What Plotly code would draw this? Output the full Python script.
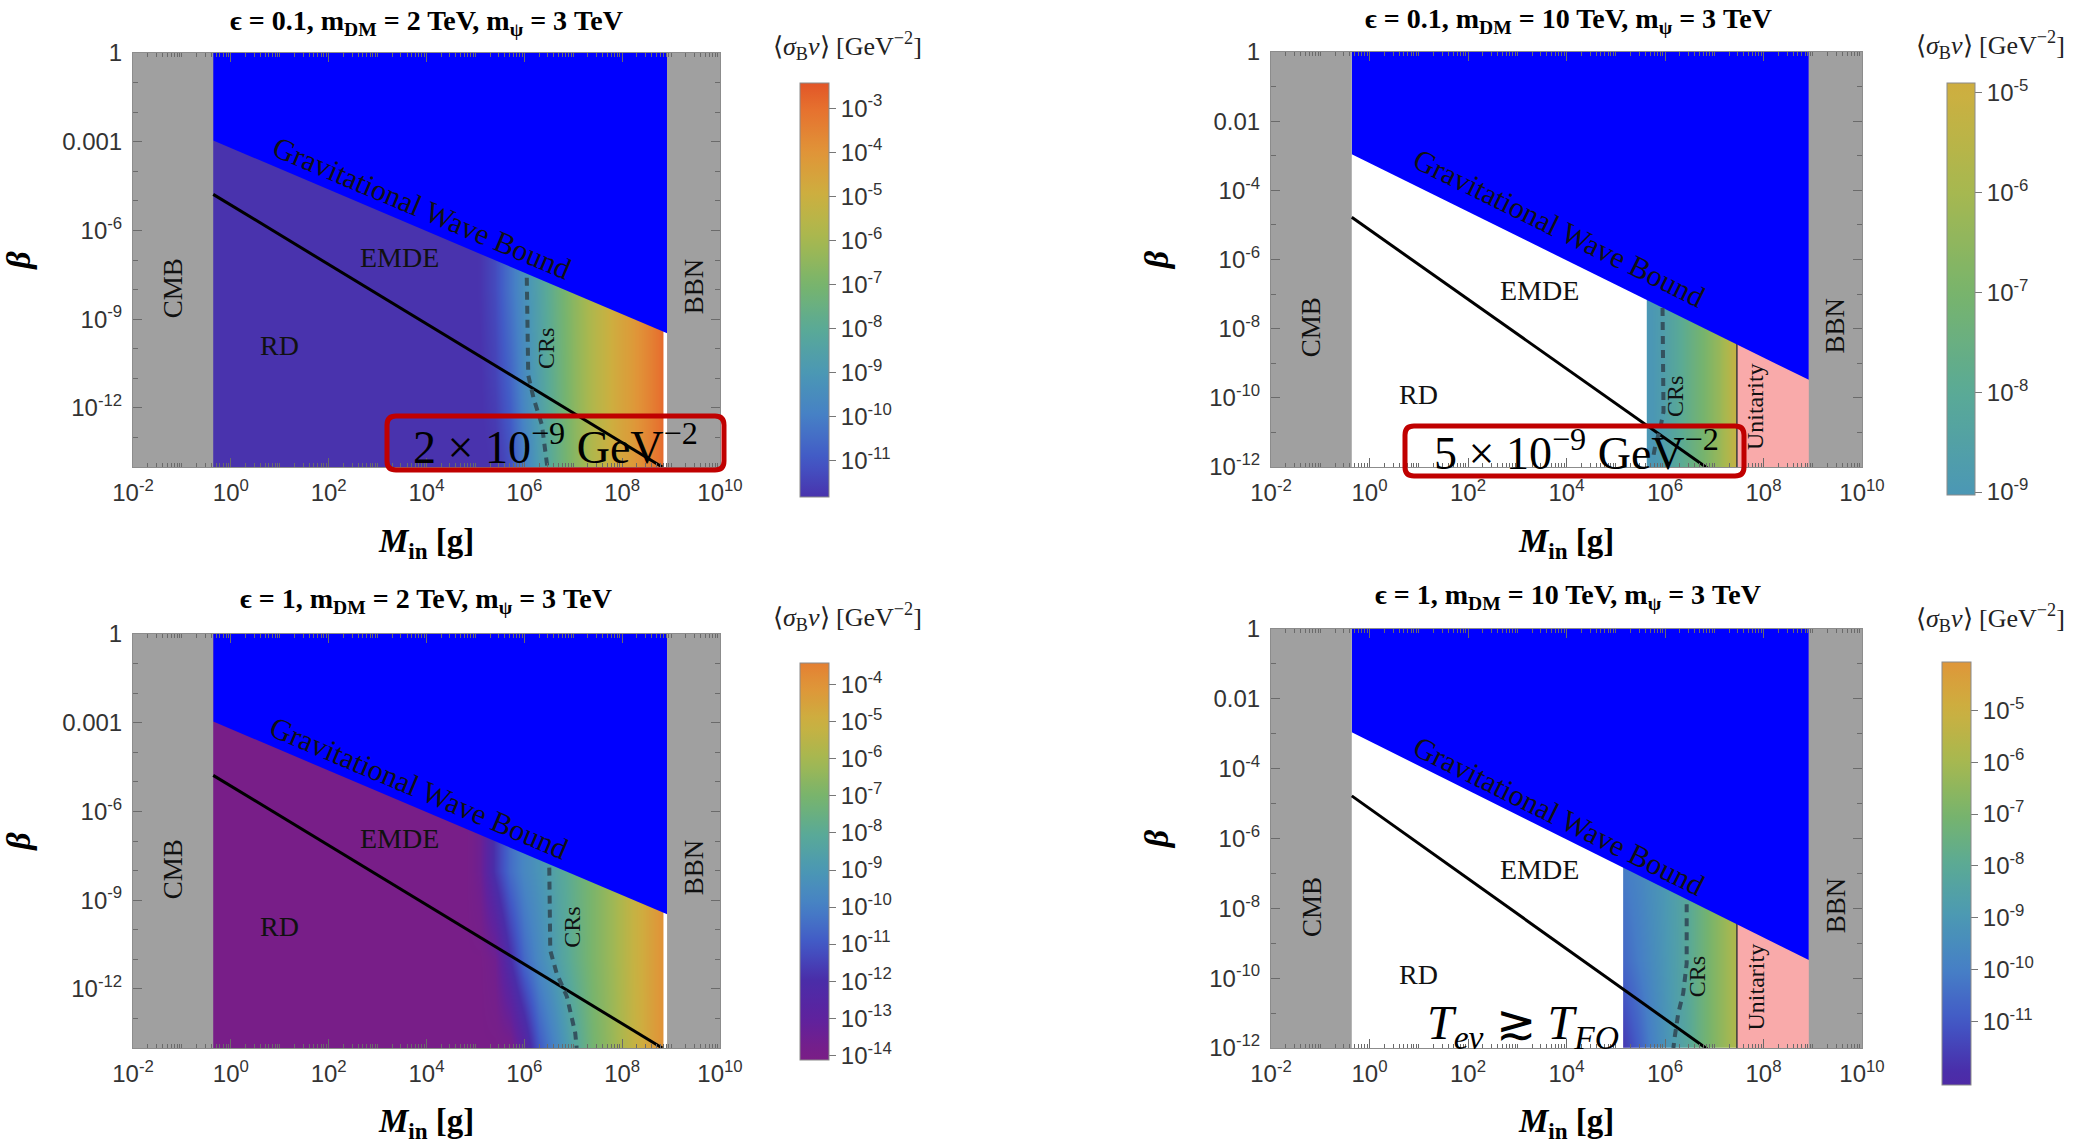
import math
import plotly.graph_objects as go
from plotly.colors import sample_colorscale

W, H = 2087, 1147
SERIF = "Liberation Serif"
SANS = "Liberation Sans"

# ---------------- data (log10 values) ----------------
X_TICK_EXP = [-2, 0, 2, 4, 6, 8, 10]
Y_TICK_EXP_A = [0, -3, -6, -9, -12]
Y_TICK_TXT_A = ["1", "0.001", "10<sup>-6</sup>", "10<sup>-9</sup>", "10<sup>-12</sup>"]
Y_TICK_EXP_B = [0, -2, -4, -6, -8, -10, -12]
Y_TICK_TXT_B = ["1", "0.01", "10<sup>-4</sup>", "10<sup>-6</sup>", "10<sup>-8</sup>",
                "10<sup>-10</sup>", "10<sup>-12</sup>"]

CMB_BAND_LOGM = [-3.0, -0.36]
BBN_BAND_LOGM = [8.92, 11.0]
GW_LOGM = [-0.36, 8.92]
GW_LOGBETA = [-2.96, -9.48]
RD_LOGM = [-0.36, 8.82]
RD_LOGBETA = [-4.78, -14.0]
UNITARITY_LOGM = 7.46
BBN_WHITE_LOGM = 8.885

# master colour gradient (log10 <sigma v> -> colour)
CMAP_LOGSV = [-14.0, -13.0, -12.0, -11.0, -10.0, -9.0, -8.0, -7.0, -6.0, -5.0, -4.0, -3.0, -2.4]
CMAP_COLORS = ["#7A1E86", "#5E229E", "#4A2CA8", "#4258C6", "#4680C6", "#4B98B4", "#5AAA96",
               "#78B46C", "#A6B850", "#CCB040", "#E09438", "#E6702E", "#E25428"]

# panel 1: eps=0.1, mDM=2 TeV
P1_LOGM = [-0.5, 4.8, 5.1, 5.4, 5.7, 6.0, 6.3, 6.6, 7.0, 7.4, 7.8, 8.2, 8.6, 9.0]
P1_ROWS = [-14, -11, -8, 0]
P1_LOGSV = [
    [-11.9, -11.9, -11.9, -11.8, -11.2, -10.0, -8.8, -7.8, -6.7, -5.7, -4.9, -4.2, -3.4, -2.5],
    [-11.9, -11.9, -11.85, -11.5, -10.7, -9.6, -8.6, -7.7, -6.65, -5.7, -4.9, -4.2, -3.4, -2.5],
    [-11.9, -11.9, -11.8, -11.3, -10.3, -9.35, -8.5, -7.6, -6.6, -5.7, -4.9, -4.2, -3.4, -2.5],
    [-11.9, -11.9, -11.8, -11.3, -10.3, -9.35, -8.5, -7.6, -6.6, -5.7, -4.9, -4.2, -3.4, -2.5],
]
P1_CB = [-11.83, -2.43]
P1_CB_TICKS = [-11, -10, -9, -8, -7, -6, -5, -4, -3]
P1_CRS_LOGM = [6.05, 6.08, 6.19, 6.36, 6.47]
P1_CRS_LOGBETA = [-7.6, -10.9, -11.68, -12.58, -14.0]

# panel 2: eps=0.1, mDM=10 TeV
P2_LOGM = [5.5, 5.63, 5.9, 6.2, 6.5, 6.8, 7.1, 7.46, 7.7]
P2_ROWS = [-12, 0]
P2_LOGSV = [
    [-9.2, -9.2, -8.8, -8.2, -7.6, -7.0, -6.3, -5.1, -4.95],
    [-9.0, -9.0, -8.7, -8.2, -7.6, -7.0, -6.3, -5.1, -4.95],
]
P2_LEFT_LOGM = 5.63
P2_CB = [-9.03, -4.9]
P2_CB_TICKS = [-9, -8, -7, -6, -5]
P2_CRS_LOGM = [5.95, 5.97, 5.9, 5.8, 5.75]
P2_CRS_LOGBETA = [-7.4, -10.4, -10.9, -11.4, -11.8]

# panel 3: eps=1, mDM=2 TeV
P3_LOGM = [-0.5, 4.8, 5.1, 5.4, 5.7, 6.0, 6.3, 6.6, 7.0, 7.4, 7.8, 8.2, 8.6, 9.0]
P3_ROWS = [-14, -11, -8, 0]
P3_LOGSV = [
    [-14, -14, -14, -14, -13.9, -12.8, -11.0, -9.9, -8.4, -7.1, -6.3, -5.3, -4.4, -3.6],
    [-14, -14, -14, -13.6, -12.0, -10.6, -9.6, -8.8, -7.8, -6.9, -6.2, -5.25, -4.4, -3.6],
    [-14, -14, -13.5, -11.8, -10.5, -9.7, -9.15, -8.5, -7.7, -6.9, -6.2, -5.25, -4.4, -3.6],
    [-14, -14, -13.5, -11.8, -10.5, -9.7, -9.15, -8.5, -7.7, -6.9, -6.2, -5.25, -4.4, -3.6],
]
P3_CB = [-14.13, -3.41]
P3_CB_TICKS = [-14, -13, -12, -11, -10, -9, -8, -7, -6, -5, -4]
P3_CRS_LOGM = [6.51, 6.53, 6.66, 6.87, 7.04, 7.07]
P3_CRS_LOGBETA = [-7.9, -10.7, -11.47, -12.26, -13.49, -14.0]

# panel 4: eps=1, mDM=10 TeV
P4_LOGM = [5.0, 5.15, 5.43, 5.7, 5.96, 6.2, 6.45, 6.7, 6.98, 7.2, 7.46, 7.7]
P4_ROWS = [-12, -9.5, -7]
P4_LOGSV = [
    [-11.9, -11.7, -10.9, -10.0, -9.3, -8.7, -8.2, -7.5, -6.8, -6.3, -5.7, -5.5],
    [-10.9, -10.6, -10.1, -9.6, -9.1, -8.65, -8.1, -7.5, -6.8, -6.3, -5.7, -5.5],
    [-10.3, -10.1, -9.8, -9.4, -9.0, -8.6, -8.1, -7.5, -6.8, -6.3, -5.7, -5.5],
]
P4_LEFT_LOGM = 5.15
P4_CB = [-12.22, -4.07]
P4_CB_TICKS = [-11, -10, -9, -8, -7, -6, -5]
P4_CRS_LOGM = [6.44, 6.44, 6.37, 6.27, 6.2, 6.17]
P4_CRS_LOGBETA = [-7.88, -9.58, -10.43, -11.0, -11.66, -12.0]

TITLES = [
    "ϵ = 0.1, m<sub>DM</sub> = 2 TeV, m<sub>ψ</sub> = 3 TeV",
    "ϵ = 0.1, m<sub>DM</sub> = 10 TeV, m<sub>ψ</sub> = 3 TeV",
    "ϵ = 1, m<sub>DM</sub> = 2 TeV, m<sub>ψ</sub> = 3 TeV",
    "ϵ = 1, m<sub>DM</sub> = 10 TeV, m<sub>ψ</sub> = 3 TeV",
]
# label positions (log10 M, log10 beta)
LBL_CMB = (-1.18, -7.95)
LBL_BBN = (9.46, -7.9)
LBL_EMDE = (3.45, -6.9)
LBL_RD = (1.0, -9.9)
LBL_CRS = [(6.43, -10.0), (6.2, -9.95), (6.97, -9.91), (6.64, -9.96)]
LBL_UNIT = (7.84, -10.25)
LBL_GW = [(3.9, -5.22), (3.84, -5.08), (3.84, -5.18), (3.84, -5.33)]

# ---------------- layout geometry (pixels) ----------------
DOM_X = [(133, 720), (1271, 1862), (133, 720), (1271, 1862)]
DOM_Y = [(53, 467), (52, 467), (634, 1048), (629, 1048)]
TITLE_POS = [(426, 22), (1568, 20), (426, 600), (1568, 596)]
XLAB_POS = [(426, 543), (1566, 543), (426, 1123), (1566, 1123)]
CB_TITLE_POS = [(847, 46), (1990, 45), (847, 617), (1990, 618)]
CB_GEOM = [(800, 83, 497, 29), (1947, 83, 495, 28), (800, 663, 1060, 29), (1942, 662, 1085, 29)]


def fx(x):
    return x / W


def fy(y):
    return 1 - y / H


def hex_rgb(h):
    h = h.lstrip("#")
    return "rgb(%d,%d,%d)" % (int(h[0:2], 16), int(h[2:4], 16), int(h[4:6], 16))


def panel_colorscale(lo, hi, n=31):
    span = CMAP_LOGSV[-1] - CMAP_LOGSV[0]
    master = [[(v - CMAP_LOGSV[0]) / span, hex_rgb(c)] for v, c in zip(CMAP_LOGSV, CMAP_COLORS)]
    ts = [i / (n - 1) for i in range(n)]
    pos = [min(1.0, max(0.0, (lo + t * (hi - lo) - CMAP_LOGSV[0]) / span)) for t in ts]
    cols = sample_colorscale(master, pos, colortype="rgb")
    return [[t, c] for t, c in zip(ts, cols)]


def p10(vals):
    return [10 ** v for v in vals]


fig = go.Figure()
annotations = []
shapes = []

panels = [
    dict(logm=P1_LOGM, rows=P1_ROWS, z=P1_LOGSV, cb=P1_CB, cbt=P1_CB_TICKS,
         crs=(P1_CRS_LOGM, P1_CRS_LOGBETA), left=None, bottom=-14),
    dict(logm=P2_LOGM, rows=P2_ROWS, z=P2_LOGSV, cb=P2_CB, cbt=P2_CB_TICKS,
         crs=(P2_CRS_LOGM, P2_CRS_LOGBETA), left=P2_LEFT_LOGM, bottom=-12),
    dict(logm=P3_LOGM, rows=P3_ROWS, z=P3_LOGSV, cb=P3_CB, cbt=P3_CB_TICKS,
         crs=(P3_CRS_LOGM, P3_CRS_LOGBETA), left=None, bottom=-14),
    dict(logm=P4_LOGM, rows=P4_ROWS, z=P4_LOGSV, cb=P4_CB, cbt=P4_CB_TICKS,
         crs=(P4_CRS_LOGM, P4_CRS_LOGBETA), left=P4_LEFT_LOGM, bottom=-12),
]

layout_axes = {}
for i, P in enumerate(panels):
    k = i + 1
    xa = "x" if k == 1 else "x%d" % k
    ya = "y" if k == 1 else "y%d" % k
    bot = P["bottom"]
    cbl, cbt_, cbb, cbw = CB_GEOM[i]

    # heatmap of <sigma_B v>
    fig.add_trace(go.Heatmap(
        x=p10(P["logm"]), y=p10(P["rows"]), z=P["z"], zsmooth="best",
        zmin=P["cb"][0], zmax=P["cb"][1], colorscale=panel_colorscale(*P["cb"]),
        xaxis=xa, yaxis=ya, hoverinfo="skip",
        colorbar=dict(
            x=fx(cbl), xanchor="left", xpad=0, y=fy((cbt_ + cbb) / 2), yanchor="middle", ypad=0,
            len=cbb - cbt_, lenmode="pixels", thickness=cbw, thicknessmode="pixels",
            outlinecolor="#8a8a8a", outlinewidth=1, ticks="outside", ticklen=7, tickcolor="#777",
            tickvals=P["cbt"], ticktext=["10<sup>%d</sup>" % t for t in P["cbt"]],
            tickfont=dict(family=SANS, size=24, color="#333"),
        ),
    ))

    def poly(xs, ys, color, **kw):
        fig.add_trace(go.Scatter(x=p10(xs), y=p10(ys), mode="lines", fill="toself",
                                 fillcolor=color, line=dict(width=0), xaxis=xa, yaxis=ya,
                                 hoverinfo="skip", showlegend=False, **kw))

    def line(xs, ys, color, width, dash=None):
        fig.add_trace(go.Scatter(x=p10(xs), y=p10(ys), mode="lines",
                                 line=dict(color=color, width=width, dash=dash),
                                 xaxis=xa, yaxis=ya, hoverinfo="skip", showlegend=False))

    if P["left"] is not None:
        # white region without relic solution, pink unitarity region
        poly([CMB_BAND_LOGM[0], P["left"], P["left"], CMB_BAND_LOGM[0]],
             [bot - 1, bot - 1, 1, 1], "white")
        poly([UNITARITY_LOGM, BBN_BAND_LOGM[1], BBN_BAND_LOGM[1], UNITARITY_LOGM],
             [bot - 1, bot - 1, 1, 1], "#F9AAAA")
        line([UNITARITY_LOGM, UNITARITY_LOGM], [bot - 1, 1], "#3a3a3a", 1.5)
    else:
        line([BBN_WHITE_LOGM, BBN_WHITE_LOGM], [bot - 1, 1], "white", 4)

    # gravitational wave bound
    poly([GW_LOGM[0], GW_LOGM[1], GW_LOGM[1], GW_LOGM[0]],
         [GW_LOGBETA[0], GW_LOGBETA[1], 1, 1], "#0000ff")
    # CMB / BBN bands
    poly([CMB_BAND_LOGM[0], CMB_BAND_LOGM[1], CMB_BAND_LOGM[1], CMB_BAND_LOGM[0]],
         [bot - 1, bot - 1, 1, 1], "#a0a0a0")
    poly([BBN_BAND_LOGM[0], BBN_BAND_LOGM[1], BBN_BAND_LOGM[1], BBN_BAND_LOGM[0]],
         [bot - 1, bot - 1, 1, 1], "#a0a0a0")
    # RD / EMDE boundary
    line(RD_LOGM, RD_LOGBETA, "black", 3)
    # CR boundary
    line(P["crs"][0], P["crs"][1], "#34525f", 4, dash="8px,6px")

    # axes
    x0, x1 = DOM_X[i]
    yt, yb = DOM_Y[i]
    xminor = [m * 10 ** e for e in range(-2, 10) for m in range(2, 10)] + \
             [10 ** e for e in range(-1, 10, 2)]
    if bot == -14:
        ytv, ytt = Y_TICK_EXP_A, Y_TICK_TXT_A
        yminor = [10 ** e for e in range(-14, 0) if e % 3 != 0]
        ystand = 28
    else:
        ytv, ytt = Y_TICK_EXP_B, Y_TICK_TXT_B
        yminor = [10 ** e for e in range(-12, 0) if e % 2 != 0]
        ystand = 30
    common = dict(type="log", showgrid=False, zeroline=False, showline=True, linecolor="#8c8c8c",
                  linewidth=1, mirror="allticks", ticks="inside", ticklen=9, tickcolor="#6a6a6a",
                  tickwidth=1, tickfont=dict(family=SANS, size=24, color="#333"))
    layout_axes["xaxis" if k == 1 else "xaxis%d" % k] = dict(
        common, domain=[fx(x0), fx(x1)], range=[-2, 10], anchor=ya, automargin=False,
        tickvals=p10(X_TICK_EXP), ticktext=["10<sup>%d</sup>" % e for e in X_TICK_EXP],
        ticklabelstandoff=4,
        minor=dict(ticks="inside", ticklen=4, tickcolor="#6a6a6a", tickmode="array", tickvals=xminor))
    layout_axes["yaxis" if k == 1 else "yaxis%d" % k] = dict(
        common, domain=[fy(yb), fy(yt)], range=[bot, 0], anchor=xa, automargin=False,
        tickvals=p10(ytv), ticktext=ytt, ticklabelstandoff=5,
        title=dict(text="<b><i>β</i></b>", font=dict(family=SERIF, size=34, color="black"),
                   standoff=ystand),
        minor=dict(ticks="inside", ticklen=5, tickcolor="#6a6a6a", tickmode="array", tickvals=yminor))

    # in-plot labels
    def lab(pos, text, size, angle=0):
        annotations.append(dict(x=pos[0], y=pos[1], xref=xa, yref=ya, text=text, showarrow=False,
                                textangle=angle, font=dict(family=SERIF, size=size, color="#111"),
                                xanchor="center", yanchor="middle"))

    lab(LBL_CMB, "CMB", 27, -90)
    lab(LBL_BBN, "BBN", 27, -90)
    lab(LBL_EMDE, "EMDE", 28)
    lab(LBL_RD, "RD", 28)
    lab(LBL_CRS[i], "CRs", 24, -90)
    if P["left"] is not None:
        lab(LBL_UNIT, "Unitarity", 24, -90)
    slope = (GW_LOGBETA[1] - GW_LOGBETA[0]) / (GW_LOGM[1] - GW_LOGM[0])
    ypd = (yb - yt) / (0 - bot)
    xpd = (x1 - x0) / 12.0
    ang = math.degrees(math.atan(-slope * ypd / xpd))
    lab(LBL_GW[i], "Gravitational Wave Bound", 30, ang)

    # titles and axis labels
    annotations.append(dict(x=fx(TITLE_POS[i][0]), y=fy(TITLE_POS[i][1]), xref="paper", yref="paper",
                            text="<b>%s</b>" % TITLES[i], showarrow=False, xanchor="center",
                            yanchor="middle", font=dict(family=SERIF, size=28, color="black")))
    annotations.append(dict(x=fx(XLAB_POS[i][0]), y=fy(XLAB_POS[i][1]), xref="paper", yref="paper",
                            text="<b><i>M</i><sub>in</sub> [g]</b>", showarrow=False, xanchor="center",
                            yanchor="middle", font=dict(family=SERIF, size=33, color="black")))
    annotations.append(dict(x=fx(CB_TITLE_POS[i][0]), y=fy(CB_TITLE_POS[i][1]), xref="paper",
                            yref="paper", text="⟨<i>σ</i><sub>B</sub><i>v</i>⟩ [GeV<sup>−2</sup>]",
                            showarrow=False, xanchor="center", yanchor="middle",
                            font=dict(family=SERIF, size=26, color="#222")))


# red highlight boxes and overlaid notes
def rounded_box(xl, yt, xr, yb, r=9):
    X = lambda v: fx(v)
    Y = lambda v: fy(v)
    return ("M %f %f L %f %f Q %f %f %f %f L %f %f Q %f %f %f %f L %f %f Q %f %f %f %f "
            "L %f %f Q %f %f %f %f Z") % (
        X(xl + r), Y(yt), X(xr - r), Y(yt), X(xr), Y(yt), X(xr), Y(yt + r),
        X(xr), Y(yb - r), X(xr), Y(yb), X(xr - r), Y(yb),
        X(xl + r), Y(yb), X(xl), Y(yb), X(xl), Y(yb - r),
        X(xl), Y(yt + r), X(xl), Y(yt), X(xl + r), Y(yt))


BOXES = [(387, 416, 724, 470), (1405, 426, 1744, 476)]
BOX_TEXT = ["2 × 10<sup>−9</sup> GeV<sup>−2</sup>", "5 × 10<sup>−9</sup> GeV<sup>−2</sup>"]
BOX_TEXT_POS = [(555, 444), (1576, 450)]
for b in BOXES:
    shapes.append(dict(type="path", xref="paper", yref="paper", path=rounded_box(*b),
                       line=dict(color="#C00000", width=5), fillcolor="rgba(0,0,0,0)", layer="above"))
for t, p in zip(BOX_TEXT, BOX_TEXT_POS):
    annotations.append(dict(x=fx(p[0]), y=fy(p[1]), xref="paper", yref="paper", text=t,
                            showarrow=False, xanchor="center", yanchor="middle",
                            font=dict(family=SERIF, size=46, color="black")))
annotations.append(dict(x=fx(1523), y=fy(1026), xref="paper", yref="paper",
                        text="<i>T</i><sub><i>ev</i></sub> ≳ <i>T</i><sub><i>FO</i></sub>",
                        showarrow=False, xanchor="center", yanchor="middle",
                        font=dict(family=SERIF, size=48, color="black")))

fig.update_layout(
    width=W, height=H, margin=dict(l=0, r=0, t=0, b=0),
    paper_bgcolor="white", plot_bgcolor="white", showlegend=False,
    annotations=annotations, shapes=shapes, **layout_axes,
)
fig.write_html("out.html")
